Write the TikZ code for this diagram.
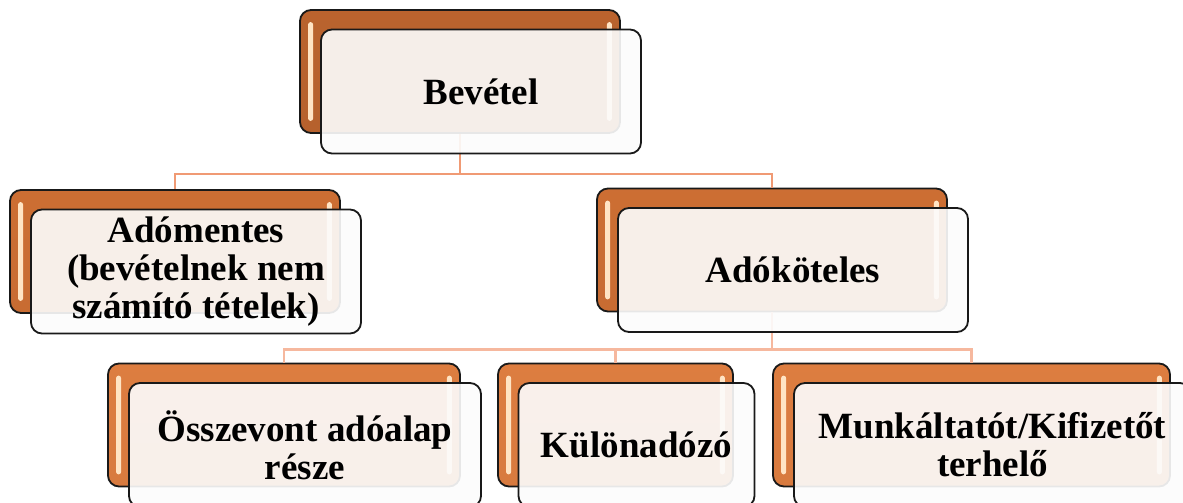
\documentclass[tikz,border=0pt]{standalone}
\usepackage{fontspec}
\setmainfont{Liberation Serif}
\usetikzlibrary{calc}
\definecolor{rootorange}{RGB}{202,108,50}
\definecolor{midorange}{RGB}{222,120,56}
\definecolor{leaforange}{RGB}{240,136,70}
\definecolor{linkupper}{RGB}{240,154,116}
\definecolor{linklower}{RGB}{246,184,158}
\definecolor{glass}{RGB}{252,252,252}
\definecolor{gleam}{RGB}{255,228,196}

\begin{document}
\begin{tikzpicture}[
    x = 1pt, y = -1pt,
    back/.style = {draw = black!90, line width = 1.8pt, rounded corners = 11pt,
        top color = #1!92!black, middle color = #1, bottom color = #1!90!black,
        minimum height = 123pt, inner sep = 0pt},
    front/.style = {draw = black!90, line width = 1.8pt, rounded corners = 11pt,
        fill = glass, fill opacity = 0.91, text opacity = 1,
        minimum height = 124pt, inner sep = 0pt, align = center,
        font = \fontsize{37}{38}\selectfont\bfseries},
    link/.style = {line width = 2.2pt},
    shine/.style = {fill = gleam, rounded corners = 2.5pt}
]
\useasboundingbox (0,0) rectangle (1183,503);
\clip (0,0) rectangle (1183,503);

% back plates
\node[back = rootorange, minimum width = 320pt] (bevb) at (460, 71.5) {};
\node[back = midorange, minimum width = 330pt] (admb) at (175, 251.5) {};
\node[back = midorange, minimum width = 350pt] (adkb) at (772, 250) {};
\node[back = leaforange, minimum width = 352pt] (osszb) at (284, 425) {};
\node[back = leaforange, minimum width = 235pt] (kulb) at (615.5, 425) {};
\node[back = leaforange, minimum width = 397pt] (munkb) at (971.5, 425) {};

\foreach \b in {bevb, admb, adkb, osszb, kulb, munkb} {
    \fill[shine] ([xshift = 9pt, yshift = -13pt]\b.north west) rectangle ([xshift = 14pt, yshift = 13pt]\b.south west);
    \fill[shine] ([xshift = -14pt, yshift = -13pt]\b.north east) rectangle ([xshift = -9pt, yshift = 13pt]\b.south east);
}

% links
\coordinate (bevj) at ($(bevb.south) + (0, 40)$);
\coordinate (adkj) at ($(adkb.south) + (0, 37)$);
\draw[link, linkupper] (bevb.south) -- (bevj) -| (admb.north);
\draw[link, linkupper] (bevj) -| (adkb.north);
\draw[link, linklower] (adkb.south) -- (adkj) -| (osszb.north);
\draw[link, linklower] (adkj) -| (kulb.north);
\draw[link, linklower] (adkj) -| (munkb.north);

% front plates
\node[front, minimum width = 320pt] (bev) at (bevb) [xshift = 21pt, yshift = -20pt] {Bevétel};
\node[front, minimum width = 330pt] (adm) at (admb) [xshift = 21pt, yshift = -20pt] {Adómentes\\(bevételnek nem\\számító tételek)};
\node[front, minimum width = 350pt] (adk) at (adkb) [xshift = 21pt, yshift = -20pt] {Adóköteles};
\node[front, minimum width = 352pt] (ossz) at (osszb) [xshift = 21pt, yshift = -20pt] {Összevont adóalap\\része};
\node[front, minimum width = 236pt] (kul) at (kulb) [xshift = 21pt, yshift = -20pt] {Különadózó};
\node[front, minimum width = 397pt] (munk) at (munkb) [xshift = 21pt, yshift = -20pt] {Munkáltatót/Kifizetőt\\terhelő};

\end{tikzpicture}
\end{document}
